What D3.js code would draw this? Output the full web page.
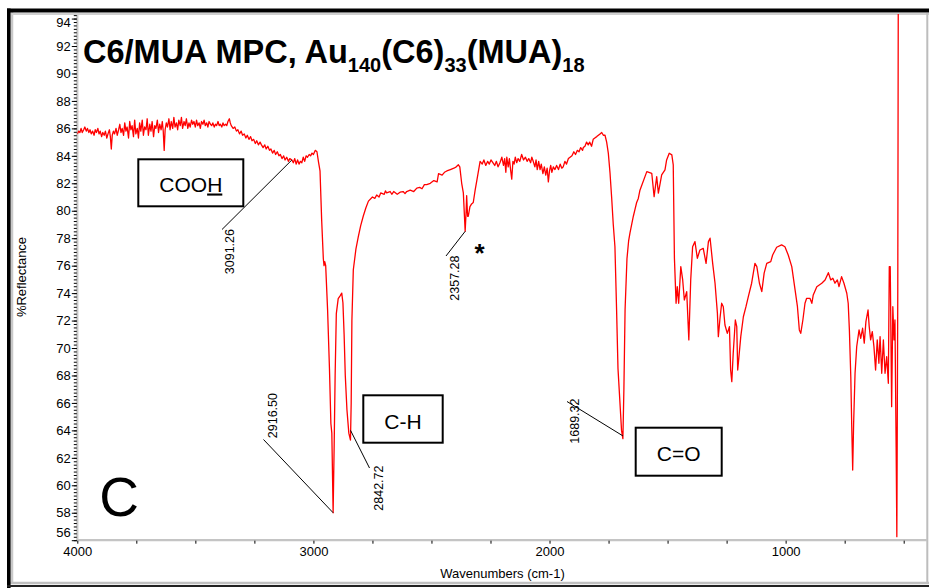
<!DOCTYPE html>
<html>
<head>
<meta charset="utf-8">
<script src="https://cdn.jsdelivr.net/npm/d3@7/dist/d3.min.js"></script>
<style>
  body { margin: 0; background: #fff; }
  svg { display: block; font-family: "Liberation Sans", Arial, sans-serif; }
</style>
</head>
<body>
<div id="container"></div>
<script>
/**
 * DATA
 * */
// [wavenumber (cm-1), %reflectance]
const spectrum = [
  [4000,85.6],[3994,85.8],[3989,85.7],[3984,86.0],[3979,85.7],[3973,85.9],[3968,86.1],[3962,85.8],
  [3957,86.0],[3951,85.7],[3946,85.9],[3941,85.6],[3935,85.8],[3929,85.5],[3924,85.9],[3919,85.7],
  [3913,86.0],[3908,85.6],[3903,85.8],[3897,85.4],[3892,85.7],[3886,85.5],[3881,85.8],[3875,85.3],
  [3870,85.6],[3864,85.9],[3860,85.4],[3856,84.5],[3852,85.5],[3847,85.8],[3842,85.6],[3836,86.0],
  [3831,85.5],[3825,85.9],[3820,86.3],[3815,85.7],[3810,86.0],[3804,85.5],[3799,86.4],[3794,85.8],
  [3789,86.1],[3783,85.3],[3778,86.5],[3773,85.9],[3768,86.2],[3762,85.4],[3757,86.6],[3752,85.6],
  [3746,86.0],[3741,85.3],[3736,86.4],[3731,85.8],[3725,86.6],[3720,85.5],[3715,86.1],[3709,85.9],
  [3704,86.7],[3699,85.5],[3693,86.3],[3688,85.8],[3683,86.5],[3677,85.4],[3672,86.2],[3667,86.0],
  [3661,86.6],[3656,85.7],[3651,86.3],[3645,85.9],[3640,86.5],[3636,85.8],[3632,84.4],[3628,85.9],
  [3623,86.4],[3618,86.1],[3612,86.7],[3607,85.9],[3602,86.5],[3596,86.0],[3591,86.8],[3586,86.1],
  [3580,86.4],[3575,85.9],[3570,86.6],[3564,86.2],[3559,86.8],[3554,86.0],[3548,86.5],[3543,86.2],
  [3538,86.7],[3532,86.0],[3527,86.4],[3522,86.1],[3516,86.6],[3511,86.3],[3506,86.5],[3500,86.1],
  [3495,86.6],[3490,86.2],[3484,86.4],[3479,86.0],[3474,86.5],[3468,86.3],[3463,86.6],[3458,86.2],
  [3452,86.4],[3447,86.1],[3442,86.5],[3436,86.3],[3431,86.2],[3426,86.4],[3420,86.1],[3415,86.3],
  [3410,86.2],[3404,86.5],[3399,86.2],[3394,86.3],[3388,86.1],[3383,86.4],[3378,86.2],[3372,86.3],
  [3367,86.2],[3362,86.5],[3356,86.7],[3352,86.4],
  [3348,86.2],[3340,86.0],[3333,86.1],[3326,85.8],[3320,85.9],[3313,85.6],[3306,85.8],[3300,85.5],
  [3293,85.6],[3286,85.3],[3280,85.5],[3273,85.2],[3266,85.4],[3260,85.1],[3253,85.2],[3246,84.9],
  [3240,85.1],[3233,84.8],[3226,85.0],[3220,84.8],[3213,84.6],[3206,84.8],[3200,84.5],[3193,84.7],
  [3186,84.4],[3180,84.5],[3173,84.2],[3166,84.4],[3160,84.1],[3153,84.3],[3146,84.0],[3140,84.1],
  [3133,83.8],[3126,84.0],[3120,83.7],[3113,83.9],[3106,83.6],[3100,83.8],[3091,83.7],[3085,83.5],
  [3079,83.8],[3073,83.4],[3067,83.7],[3061,83.4],[3055,83.6],[3049,83.5],[3043,83.9],[3037,83.6],
  [3031,84.0],[3025,83.9],[3018,84.1],[3012,84.0],[3006,84.2],[3000,84.1],[2992,84.4],[2985,84.3],
  [2978,83.5],[2972,82.9],[2965,79.3],[2958,76.5],[2955,76.0],[2952,76.3],[2948,76.0],[2940,72.8],
  [2932,68.5],[2926,64.5],[2922,63.8],[2916.5,58.0],[2912,63.0],[2908,68.0],[2903,72.5],[2895,73.6],
  [2887,73.8],[2880,74.0],[2875,73.3],[2870,71.0],[2865,68.0],[2858,65.5],[2850,63.8],[2843,63.3],
  [2840,66.0],[2837,72.0],[2831,75.7],[2820,77.2],[2810,78.1],[2800,78.9],[2789,79.6],[2778,80.2],
  [2767,80.7],[2750,81.0],[2740,80.9],[2732,81.15],[2722,81.0],[2715,81.3],[2700,81.2],[2695,81.45],
  [2690,81.3],[2675,81.4],[2668,81.2],[2660,81.4],[2645,81.2],[2633,81.35],[2620,81.4],[2612,81.25],
  [2605,81.4],[2590,81.5],[2575,81.4],[2562,81.65],[2550,81.7],[2540,81.6],[2530,81.9],[2520,81.9],
  [2505,82.0],[2490,82.2],[2476,82.1],[2470,82.7],[2455,82.6],[2445,82.8],[2435,82.9],[2420,83.0],
  [2405,83.1],[2395,83.2],[2386,83.35],[2380,83.2],[2372,82.0],[2365,81.3],[2360,79.5],[2357.3,78.5],
  [2353,80.0],[2351,81.1],[2347,79.6],[2344,79.6],[2337,80.3],[2330,80.5],[2323,80.6],[2315,81.5],
  [2308,82.2],[2300,83.0],[2294,83.6],
  [2285,83.4],[2278,83.7],[2270,83.3],[2262,83.6],[2255,83.4],[2248,83.7],[2240,83.5],[2232,83.3],
  [2225,83.6],[2218,83.2],[2210,83.5],[2202,83.9],[2195,83.3],[2190,83.8],[2185,82.8],[2181,83.9],
  [2175,83.2],[2170,83.8],[2165,83.0],[2160,82.3],[2155,83.6],[2150,83.4],[2145,83.9],[2139,83.5],
  [2133,83.8],[2126,83.6],[2118,84.1],[2110,83.7],[2102,83.9],[2095,83.6],[2088,83.8],[2080,83.5],
  [2075,83.9],[2069,83.6],[2062,83.2],[2057,83.7],[2052,83.0],[2046,83.6],[2040,83.0],[2035,83.4],
  [2028,82.7],[2022,83.2],[2016,82.6],[2010,83.1],[2005,82.1],[2000,82.9],[1995,83.3],[1990,82.8],
  [1984,83.2],[1977,83.0],[1970,83.3],[1962,83.0],[1955,83.4],[1948,83.1],[1942,83.2],[1935,83.6],
  [1928,83.4],[1920,83.8],[1913,83.9],[1905,84.0],[1897,84.3],[1890,84.1],[1882,84.4],[1875,84.3],
  [1868,84.6],[1860,84.4],[1857,84.6],[1850,84.7],[1843,85.0],[1836,84.8],[1830,85.0],[1822,84.7],
  [1815,85.2],[1808,85.3],[1800,85.4],[1793,85.5],[1786,85.6],[1779,85.7],[1772,85.5],[1765,85.5],
  [1758,85.0],[1751,84.2],[1744,82.8],[1737,81.0],[1730,79.0],[1723,77.4],[1716,72.8],[1710,68.5],
  [1700,65.5],[1695,64.0],[1689.3,63.4],[1685,67.0],[1680,72.8],[1672,76.5],[1665,77.8],[1659,78.4],
  [1652,79.0],[1645,79.6],[1638,80.1],[1631,80.6],[1624,80.9],[1617,81.5],
  [1588,82.85],[1567,82.73],[1557,81.03],[1546,82.48],[1539,81.28],[1525,82.61],[1511,82.97],[1504,83.7],
  [1493,84.19],[1482,84.07],[1476,83.34],[1471,76.54],[1464,73.26],[1459,74.47],[1453,73.26],[1444,75.93],
  [1436,74.96],[1429,73.5],[1419,74.11],[1410,70.59],[1402,74.96],[1394,77.38],[1384,77.75],[1374,76.54],
  [1363,77.14],[1349,77.26],[1337,76.17],[1327,77.75],[1320,78.0],[1309,76.17],[1299,74.72],[1289,72.53],
  [1285,70.83],[1278,72.17],[1271,73.26],[1264,73.01],[1257,71.68],[1247,71.07],[1238,71.56],[1233,68.4],
  [1228,67.55],[1222,69.62],[1213,72.04],[1207,71.56],[1203,68.4],[1199,69.13],[1190,70.83],[1179,72.28],
  [1168,73.01],[1158,73.74],[1144,74.72],[1130,76.17],[1122,75.93],[1111,74.72],[1101,74.11],[1091,75.45],
  [1080,76.17],[1063,76.29],[1055,76.78],[1038,77.34],[1017,77.51],[1003,77.38],[989,76.78],[974,75.93],
  [960,74.23],[950,73.01],[942,71.32],[936,71.07],[927,72.04],[918,73.26],[911,73.62],[897,73.62],
  [889,73.26],[883,73.87],[868,74.47],[847,74.72],[833,74.96],[819,75.49],[809,74.96],[800,75.08],
  [791,74.72],[781,74.96],[774,74.47],[763,75.2],[753,74.72],[741,73.99],[735,73.26],[730,71.32],
  [724,67.91],[720,64.27],[716,61.11],[712,64.52],[706,68.16],[699,70.1],[689,71.32],[682,70.71],
  [674,71.44],[667,70.35],[660,71.92],[651,72.77],[646,71.56],[640,70.59],[633,71.19],[626,70.1],
  [619,68.4],[612,70.59],[605,68.89],[600,70.83],[593,68.16],[586,70.59],[579,68.16],[572,69.37],
  [565,67.43],[561,75.93],[557,75.93],[551,65.73],[546,73.01],[541,70.59],[537,72.04],[532,62.81],
  [529,56.26],[525,74.23],[523,95.0]
];

const yTicks = d3.range(56, 95, 2);
const yMinorTicks = d3.range(56, 94.3, 0.25);
const xTicks = d3.range(4000, 400, -250);

const titleParts = [
  { text: "C6/MUA MPC, Au", sub: false },
  { text: "140", sub: true },
  { text: "(C6)", sub: false },
  { text: "33", sub: true },
  { text: "(MUA)", sub: false },
  { text: "18", sub: true }
];

const peakNames = ["3091.26", "2916.50", "2842.72", "2357.28", "1689.32"];
const peakWavenumbers = [3091.26, 2916.50, 2842.72, 2357.28, 1689.32];
const peakValues = [83.7, 58.0, 64.0, 78.5, 63.6];

const bandNames = ["COOH", "C-H", "C=O"];

/**
 * LAYOUT
 * */
const width = 929, height = 588;
const plot = { left: 77.3, right: 927.3, top: 15, bottom: 540.2 };

// where each peak label sits (rotated text: baseline x, top-end y) and where its leader meets it
const peakLayout = [
  { tx: 233.5, ty: 229, lx: 222, ly: 229.5 },
  { tx: 277, ty: 393, lx: 263.5, ly: 439.5 },
  { tx: 383, ty: 465.5, lx: 369.5, ly: 468 },
  { tx: 458.5, ty: 255.5, lx: 446, ly: 256 },
  { tx: 578.5, ty: 398.5, lx: 567, ly: 401.5 }
];
const bandLayout = [
  { x0: 138.3, y0: 159.3, x1: 243.3, y1: 206.3, tx: 190.8, ty: 191.5 },
  { x0: 363.3, y0: 395.3, x1: 442.7, y1: 442.7, tx: 403, ty: 428.5 },
  { x0: 635.7, y0: 427.7, x1: 721.7, y1: 475.7, tx: 678.7, ty: 460.5 }
];

const svg = d3.select("#container")
  .append("svg")
  .attr("width", width)
  .attr("height", height);

svg.append("rect").attr("width", width).attr("height", height).attr("fill", "#fff");

// window frame
svg.append("line").attr("x1", 12).attr("x2", 12).attr("y1", 12).attr("y2", 584).attr("stroke", "#c8c8c8").attr("stroke-width", 2.5);
svg.append("line").attr("x1", 12).attr("x2", 929).attr("y1", 14).attr("y2", 14).attr("stroke", "#d0d0d0").attr("stroke-width", 2);
svg.append("line").attr("x1", 927.3).attr("x2", 927.3).attr("y1", 13).attr("y2", 584).attr("stroke", "#bdbdbd").attr("stroke-width", 2);
svg.append("line").attr("x1", 10).attr("x2", 929).attr("y1", 583).attr("y2", 583).attr("stroke", "#c0c0c0").attr("stroke-width", 2.5);
svg.append("line").attr("x1", 8.8).attr("x2", 8.8).attr("y1", 8.5).attr("y2", 588).attr("stroke", "#000").attr("stroke-width", 3.6);
svg.append("line").attr("x1", 7).attr("x2", 929).attr("y1", 10.5).attr("y2", 10.5).attr("stroke", "#000").attr("stroke-width", 4);
svg.append("line").attr("x1", 7).attr("x2", 929).attr("y1", 586).attr("y2", 586).attr("stroke", "#222").attr("stroke-width", 2);

/**
 * SCALES + AXES
 * */
const x = d3.scaleLinear().domain([4000, 400]).range([plot.left, plot.right]);
const y = d3.scaleLinear().domain([56, 94.26]).range([plot.bottom, plot.top]);

// axis base lines (grey)
svg.append("line").attr("x1", plot.left).attr("x2", plot.left).attr("y1", plot.top).attr("y2", plot.bottom + 1)
  .attr("stroke", "#c4c4c4").attr("stroke-width", 2.2);
svg.append("line").attr("x1", plot.left - 1).attr("x2", plot.right).attr("y1", plot.bottom).attr("y2", plot.bottom)
  .attr("stroke", "#c4c4c4").attr("stroke-width", 2.2);

const yMinor = svg.append("g").attr("transform", `translate(${plot.left - 0.5},0)`)
  .call(d3.axisLeft(y).tickValues(yMinorTicks).tickSize(3).tickSizeOuter(0).tickFormat(""));
yMinor.select(".domain").remove();
yMinor.selectAll("line").attr("stroke", "#000").attr("stroke-width", 1);

const yAxis = svg.append("g").attr("transform", `translate(${plot.left - 0.5},0)`)
  .call(d3.axisLeft(y).tickValues(yTicks).tickSize(5).tickSizeOuter(0).tickPadding(1));
yAxis.select(".domain").remove();
yAxis.selectAll("line").attr("stroke", "#000");
yAxis.selectAll("text")
  .attr("font-family", "Liberation Sans, Arial, sans-serif")
  .attr("font-size", 13).attr("fill", "#000")
  .attr("dy", d => d === 56 ? "-0.3em" : d === 94 ? "0.6em" : "0.32em");

const xAxis = svg.append("g").attr("transform", `translate(0,${plot.bottom + 0.5})`)
  .call(d3.axisBottom(x).tickValues(xTicks).tickSize(3).tickSizeOuter(0).tickPadding(3)
    .tickFormat(d => d % 1000 === 0 ? d : ""));
xAxis.select(".domain").remove();
xAxis.selectAll("line").attr("stroke", "#000");
xAxis.selectAll("text")
  .attr("font-family", "Liberation Sans, Arial, sans-serif")
  .attr("font-size", 13).attr("fill", "#000");

svg.append("text")
  .attr("x", 502.5).attr("y", 577.5)
  .attr("text-anchor", "middle").attr("font-size", 13)
  .text("Wavenumbers (cm-1)");

svg.append("text")
  .attr("transform", "translate(25.5,277) rotate(-90)")
  .attr("text-anchor", "middle").attr("font-size", 13)
  .text("%Reflectance");

/**
 * SPECTRUM
 * */
svg.append("clipPath").attr("id", "plot-clip")
  .append("rect").attr("x", plot.left).attr("y", plot.top - 1)
  .attr("width", plot.right - plot.left).attr("height", plot.bottom - plot.top + 1);

const line = d3.line().x(d => x(d[0])).y(d => y(d[1]));
svg.append("path")
  .datum(spectrum)
  .attr("clip-path", "url(#plot-clip)")
  .attr("fill", "none")
  .attr("stroke", "#ff0000")
  .attr("stroke-width", 1.3)
  .attr("stroke-linejoin", "round")
  .attr("d", line);

/**
 * ANNOTATIONS
 * */
const title = svg.append("text")
  .attr("x", 83).attr("y", 62.5)
  .attr("font-weight", "bold").attr("font-size", 32.5).attr("fill", "#000");
let shift = 0;
titleParts.forEach(p => {
  const dy = p.sub ? 9 : -shift;
  shift = p.sub ? 9 : 0;
  title.append("tspan")
    .attr("font-size", p.sub ? 20 : 32.5)
    .attr("dy", dy)
    .text(p.text);
});

// peak labels with leader lines
peakNames.forEach((name, i) => {
  const L = peakLayout[i];
  svg.append("line")
    .attr("x1", L.lx).attr("y1", L.ly)
    .attr("x2", x(peakWavenumbers[i])).attr("y2", y(peakValues[i]))
    .attr("stroke", "#000").attr("stroke-width", 1);
  svg.append("text")
    .attr("transform", `translate(${L.tx},${L.ty}) rotate(-90)`)
    .attr("text-anchor", "end")
    .attr("font-size", 12.5)
    .text(name);
});

// boxed band labels
bandNames.forEach((name, i) => {
  const B = bandLayout[i];
  svg.append("rect")
    .attr("x", B.x0).attr("y", B.y0)
    .attr("width", B.x1 - B.x0).attr("height", B.y1 - B.y0)
    .attr("fill", "#fff").attr("stroke", "#000").attr("stroke-width", 2);
  const t = svg.append("text")
    .attr("x", B.tx).attr("y", B.ty)
    .attr("text-anchor", "middle").attr("font-size", 21);
  if (name === "COOH") {
    t.append("tspan").text("COO");
    t.append("tspan").attr("text-decoration", "underline").text("H");
  } else {
    t.text(name);
  }
});

svg.append("text")
  .attr("x", 119).attr("y", 516)
  .attr("text-anchor", "middle").attr("font-size", 55)
  .text("C");

svg.append("text")
  .attr("x", 479.5).attr("y", 262)
  .attr("text-anchor", "middle").attr("font-size", 26).attr("font-weight", "bold")
  .text("*");
</script>
</body>
</html>
